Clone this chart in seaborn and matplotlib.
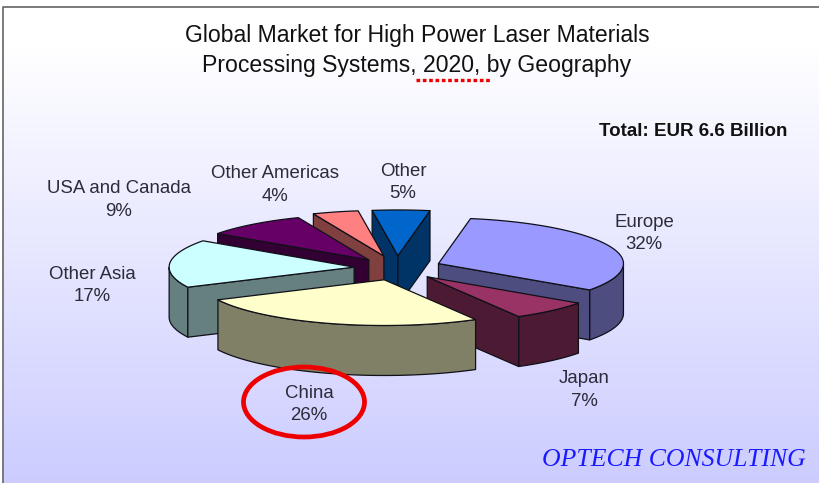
import numpy as np
import seaborn as sns
from matplotlib import pyplot as plt
from matplotlib.patches import Ellipse

# quote in percento, in senso orario a partire da Europe
regions = ['Europe', 'Japan', 'China', 'Other Asia', 'USA and Canada', 'Other Americas', 'Other']
shares = [32, 7, 26, 17, 9, 4, 5]
top_colors = ['#9999FF', '#993366', '#FFFFCC', '#CCFFFF', '#660066', '#FF8080', '#0066CC']
title_lines = ['Global Market for High Power Laser Materials', 'Processing Systems, 2020, by Geography']
total_text = 'Total: EUR 6.6 Billion'
brand_text = 'OPTECH CONSULTING'

# geometria della torta 3D, in pixel
cx, cy = 395, 268
radius = 185
squash = 0.247
depth = 50
start_angle = 80
explode = {'Europe': 47, 'Japan': 48, 'China': 50, 'Other Asia': 43,
           'USA and Canada': 42, 'Other Americas': 50, 'Other': 50}
# piccola correzione orizzontale (il grafico originale ha la prospettiva)
nudge = {'China': 4, 'Other Asia': 2, 'Other Americas': 2, 'Other': 2}
label_pos = {'Europe': (644, 233.5), 'Japan': (584, 390), 'China': (309, 404.5), 'Other Asia': (92, 285.5),
             'USA and Canada': (119, 200), 'Other Americas': (275, 185), 'Other': (403, 182.5)}
draw_order = ['Other', 'Other Americas', 'USA and Canada', 'Other Asia', 'Europe', 'Japan', 'China']

sns.set_theme(style='white')
plt.rcParams['font.family'] = ['Liberation Sans', 'DejaVu Sans']


def project(x0, y0, angles, r=radius):
    rad = np.radians(angles)
    return x0 + r * np.cos(rad), y0 - r * squash * np.sin(rad)


def draw_slice(ax, a1, a2, mid, offset, shift, color):
    """Disegna una fetta: pareti visibili prima, faccia superiore dopo."""
    x0, y0 = project(cx + shift, cy, mid, offset)
    dark = tuple(np.array(color) * 0.5)
    edge = dict(edgecolor='#101018', linewidth=0.9, joinstyle='round')

    # bordo esterno, solo la parte rivolta verso chi guarda
    angles = np.linspace(a1, a2, 120)
    front = angles[np.sin(np.radians(angles)) <= 0]
    if len(front) > 1:
        xs, ys = project(x0, y0, front)
        ax.fill(np.r_[xs, xs[::-1]], np.r_[ys, ys[::-1] + depth], facecolor=dark, **edge)

    # pareti di taglio
    for ang, visible in ((a1, np.cos(np.radians(a1)) < 0), (a2, np.cos(np.radians(a2)) > 0)):
        if visible:
            xe, ye = project(x0, y0, ang)
            ax.fill([x0, xe, xe, x0], [y0, ye, ye + depth, y0 + depth], facecolor=dark, **edge)

    xs, ys = project(x0, y0, angles)
    ax.fill(np.r_[x0, xs], np.r_[y0, ys], facecolor=color, **edge)


fig = plt.figure(figsize=(8.2, 4.83), dpi=100)
ax = fig.add_axes([0, 0, 1, 1])
ax.set_xlim(0, 820)
ax.set_ylim(483, 0)
ax.axis('off')

# sfondo sfumato
grad = np.ones((483, 1, 3))
t = np.clip((np.arange(483) - 40) / 443, 0, 1)
grad[:, 0, 0] = 1 - t * 0.2
grad[:, 0, 1] = 1 - t * 0.2
ax.imshow(grad, extent=(3, 820, 483, 6), aspect='auto', zorder=0)
ax.set_xlim(0, 820)
ax.set_ylim(483, 0)
ax.plot([3, 3, 820], [483, 6.5, 6.5], color='#707070', lw=1.3, zorder=1)

# angoli calcolati dalle quote
sweeps = np.array(shares) / sum(shares) * 360
ends = start_angle - np.cumsum(sweeps)
starts = ends + sweeps
palette = sns.color_palette(top_colors)
for name in draw_order:
    i = regions.index(name)
    draw_slice(ax, starts[i], ends[i], (starts[i] + ends[i]) / 2, explode[name], nudge.get(name, 0), palette[i])

for name, share in zip(regions, shares):
    x, y = label_pos[name]
    ax.text(x, y, f'{name}\n{share}%', ha='center', va='center', fontsize=13.4,
            color='#2b2b3a', linespacing=1.42)

ax.text(417, 50.5, '\n'.join(title_lines), ha='center', va='center', fontsize=16.6,
        color='#111111', linespacing=1.36)
ax.text(787, 131, total_text, ha='right', va='center', fontsize=13.5, fontweight='bold', color='#111111')
ax.text(806, 460, brand_text, ha='right', va='center', fontsize=18.5, color='#1a1aff',
        family=['Liberation Serif'], style='italic')

# evidenziazioni rosse
ax.plot([416, 491], [79.5, 79.5], color='#ee0000', lw=2.4, linestyle=(0, (1.1, 0.8)))
ax.add_patch(Ellipse((304, 402), 121, 70, fill=False, edgecolor='#ee0000', linewidth=3.4))

plt.savefig('out.png', dpi=100)
plt.close()
